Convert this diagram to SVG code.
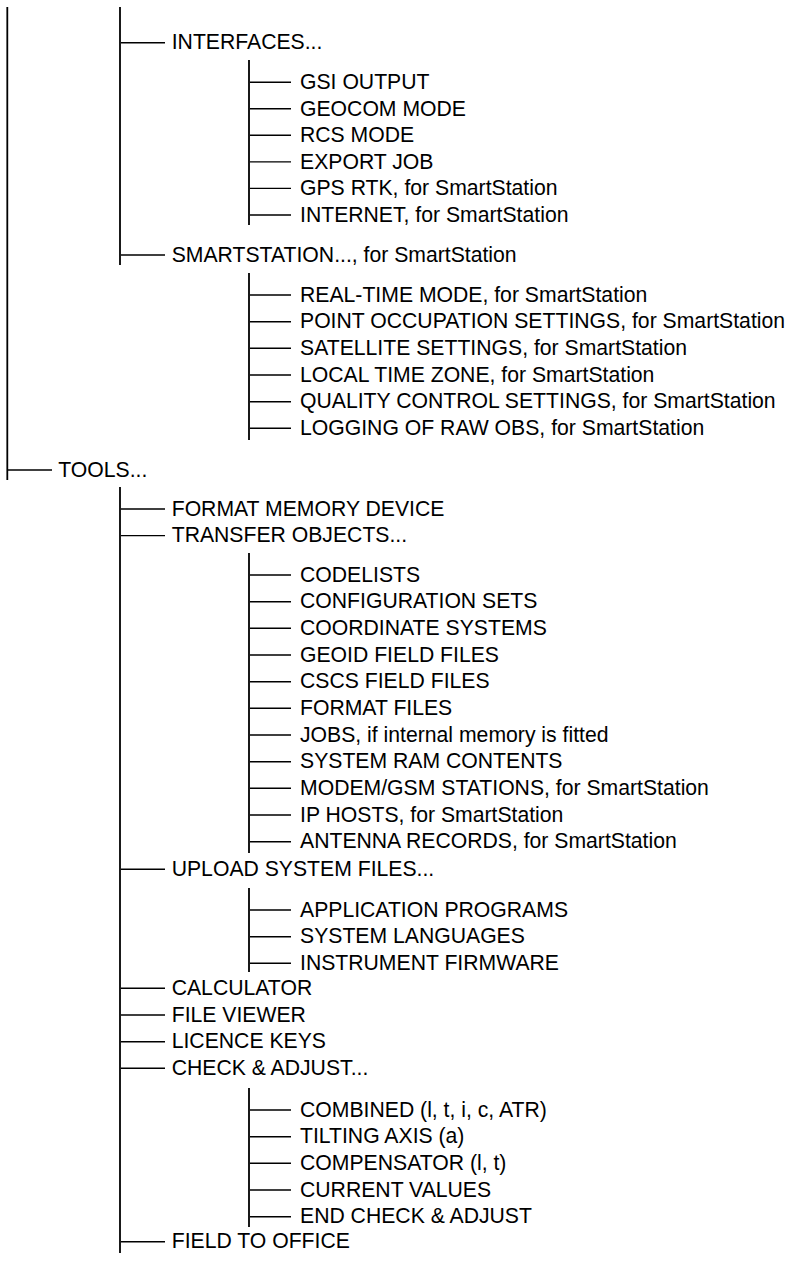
<svg xmlns="http://www.w3.org/2000/svg" width="797" height="1274" viewBox="0 0 797 1274">
<style>
.v{stroke:#000;stroke-width:1.8;fill:none}
.h{stroke:#000;stroke-width:1.4;fill:none}
text{font-family:"Liberation Sans",Arial,sans-serif;font-size:21.2px;fill:#000}
</style>
<rect width="797" height="1274" fill="#fff"/>
<g id="connectors">
<line class="v" x1="7.3" y1="7" x2="7.3" y2="480"/>
<line class="v" x1="120" y1="7" x2="120" y2="265"/>
<line class="v" x1="249" y1="60" x2="249" y2="225"/>
<line class="v" x1="249" y1="273" x2="249" y2="440"/>
<line class="v" x1="120" y1="487" x2="120" y2="1253"/>
<line class="v" x1="249" y1="553" x2="249" y2="853"/>
<line class="v" x1="249" y1="888" x2="249" y2="972"/>
<line class="v" x1="249" y1="1088" x2="249" y2="1227"/>
<path class="h" d="M8 470H52"/>
<path class="h" d="M121 42.7H165M121 255H165M121 509H165M121 535.6H165M121 869.3H165M121 988.3H165M121 1015H165M121 1041.7H165M121 1068.3H165M121 1241.7H165"/>
<path class="h" d="M250 82.2H291M250 108.8H291M250 135.3H291M250 161.9H291M250 188.4H291M250 215H291"/>
<path class="h" d="M250 295H291M250 321.7H291M250 348.3H291M250 375H291M250 401.7H291M250 428.3H291"/>
<path class="h" d="M250 575H291M250 601.7H291M250 628.3H291M250 655H291M250 681.7H291M250 708.3H291M250 735H291M250 761.7H291M250 788.3H291M250 815H291M250 841.7H291"/>
<path class="h" d="M250 910H291M250 936.7H291M250 963.3H291"/>
<path class="h" d="M250 1110H291M250 1136.7H291M250 1163.3H291M250 1190H291M250 1216.7H291"/>
</g>
<g id="interfaces"><text x="171.7" y="49.4">INTERFACES...</text></g>
<g id="interfaces-items">
<text x="300" y="88.9">GSI OUTPUT</text>
<text x="300" y="115.5">GEOCOM MODE</text>
<text x="300" y="142">RCS MODE</text>
<text x="300" y="168.6">EXPORT JOB</text>
<text x="300" y="195.1">GPS RTK, for SmartStation</text>
<text x="300" y="221.7">INTERNET, for SmartStation</text>
</g>
<g id="smartstation"><text x="171.7" y="261.7">SMARTSTATION..., for SmartStation</text></g>
<g id="smartstation-items">
<text x="300" y="301.7">REAL-TIME MODE, for SmartStation</text>
<text x="300" y="328.4">POINT OCCUPATION SETTINGS, for SmartStation</text>
<text x="300" y="355">SATELLITE SETTINGS, for SmartStation</text>
<text x="300" y="381.7">LOCAL TIME ZONE, for SmartStation</text>
<text x="300" y="408.4">QUALITY CONTROL SETTINGS, for SmartStation</text>
<text x="300" y="435">LOGGING OF RAW OBS, for SmartStation</text>
</g>
<g id="tools"><text x="58.3" y="476.7">TOOLS...</text></g>
<g id="tools-items">
<text x="171.7" y="515.7">FORMAT MEMORY DEVICE</text>
<text x="171.7" y="542.3">TRANSFER OBJECTS...</text>
<text x="171.7" y="876">UPLOAD SYSTEM FILES...</text>
<text x="171.7" y="995">CALCULATOR</text>
<text x="171.7" y="1021.7">FILE VIEWER</text>
<text x="171.7" y="1048.4">LICENCE KEYS</text>
<text x="171.7" y="1075">CHECK &amp; ADJUST...</text>
<text x="171.7" y="1248.4">FIELD TO OFFICE</text>
</g>
<g id="transfer-items">
<text x="300" y="581.7">CODELISTS</text>
<text x="300" y="608.4">CONFIGURATION SETS</text>
<text x="300" y="635">COORDINATE SYSTEMS</text>
<text x="300" y="661.7">GEOID FIELD FILES</text>
<text x="300" y="688.4">CSCS FIELD FILES</text>
<text x="300" y="715">FORMAT FILES</text>
<text x="300" y="741.7">JOBS, if internal memory is fitted</text>
<text x="300" y="768.4">SYSTEM RAM CONTENTS</text>
<text x="300" y="795">MODEM/GSM STATIONS, for SmartStation</text>
<text x="300" y="821.7">IP HOSTS, for SmartStation</text>
<text x="300" y="848.4">ANTENNA RECORDS, for SmartStation</text>
</g>
<g id="upload-items">
<text x="300" y="916.7">APPLICATION PROGRAMS</text>
<text x="300" y="943.4">SYSTEM LANGUAGES</text>
<text x="300" y="970">INSTRUMENT FIRMWARE</text>
</g>
<g id="check-items">
<text x="300" y="1116.7">COMBINED (l, t, i, c, ATR)</text>
<text x="300" y="1143.4">TILTING AXIS (a)</text>
<text x="300" y="1170">COMPENSATOR (l, t)</text>
<text x="300" y="1196.7">CURRENT VALUES</text>
<text x="300" y="1223.4">END CHECK &amp; ADJUST</text>
</g>
</svg>
